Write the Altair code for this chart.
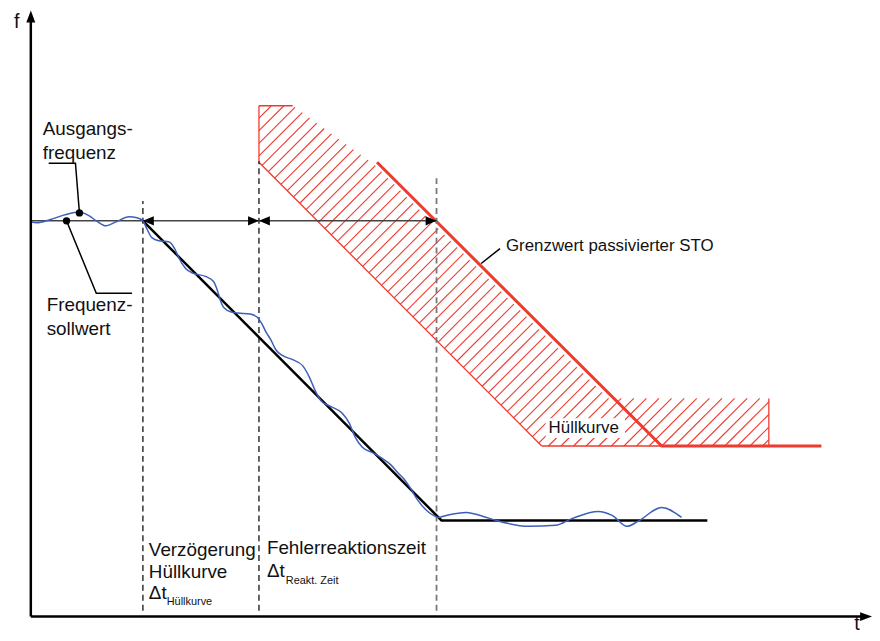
import altair as alt
import pandas as pd

# ---------------- data (t = time units, f = frequency units) ----------------
# output frequency (blue, wavy)
wave_t = [0, 6, 19, 34, 49, 59, 66, 76, 86, 99, 107, 113,
          117, 122, 129, 139, 145, 149, 156, 164, 176, 184, 188, 191, 195, 202, 209,
          221, 228, 233, 237, 242, 247, 254, 264, 274, 281, 287, 293, 302, 314, 321,
          327, 334, 345, 355, 363, 370, 376, 383, 389, 399, 406, 411, 419, 439, 456,
          469, 502, 529, 546, 572, 586, 601, 612, 636, 656]
wave_f = [398, 397, 400, 405, 408, 404, 399, 394, 398, 403, 402, 399,
          391, 382, 379, 378, 371, 362, 351, 346, 343, 338, 329, 319, 311, 307, 306,
          305, 302, 295, 287, 279, 269, 263, 259, 253, 241, 227, 217, 212, 205, 195,
          181, 171, 165, 159, 153, 145, 139, 129, 119, 107, 102, 100, 102, 105, 101,
          97, 91, 92, 99, 106, 102, 91, 96, 110, 100]

# frequency setpoint / envelope ramp (black)
ramp_t = [113, 414, 682]
ramp_f = [399, 97, 97]

# limit value passivated STO (thick red)
sto_t = [349, 636, 797]
sto_f = [458, 172, 172]

# envelope outline (thin red): segments t1,f1,t2,f2
env_t1 = [230, 230, 230, 515, 744]
env_f1 = [458, 515, 458, 172, 172]
env_t2 = [230, 264, 515, 636, 744]
env_f2 = [515, 515, 172, 172, 220]

# hatched envelope region (polygon)
hatch_t = [230, 264, 347, 582, 744, 744, 515, 230]
hatch_f = [515, 515, 455, 220, 220, 172, 172, 458]
HATCH_STEP = 12.7

# time marks
t_start = 113      # start of ramp
t_env = 230        # envelope start
t_react = 409      # reaction time end
dash_top = [419, 459, 444]
set_f = 399

# axes
axis_tmax, axis_fmax = 848, 611

# leader lines
lead_a_t = [49, 45, 18]
lead_a_f = [407, 457, 457]
lead_b_t = [36, 66, 102]
lead_b_f = [399, 326, 326]
lead_c_t = [454, 473]
lead_c_f = [356, 371]
dots_t = [49, 36]
dots_f = [407, 399]

labels = ["Ausgangs-", "frequenz", "Frequenz-", "sollwert",
          "Grenzwert passivierter STO", "Hüllkurve",
          "Verzögerung", "Hüllkurve", "Δt", "Hüllkurve",
          "Fehlerreaktionszeit", "Δt", "Reakt. Zeit", "f", "t"]
label_t = [12, 12, 16, 16, 479, 522, 119, 119, 119, 137, 238, 238, 257, -17, 830]
label_f = [492, 467, 314, 290, 374, 190, 67, 45, 24, 15, 69, 46, 36, 599, -7]
label_size = [19, 19, 19, 19, 17, 17, 19, 19, 19, 11, 19, 19, 11, 20, 20]

# ---------------- build ----------------
W, H = 864, 625
T_DOM = [-23, 841]
F_DOM = [-14, 611]
RED = "#ee3a2f"
BLUE = "#3d5fb8"

xs = alt.Scale(domain=T_DOM, nice=False, zero=False)
ys = alt.Scale(domain=F_DOM, nice=False, zero=False)


def X(f="t"):
    return alt.X(f, type="quantitative", scale=xs, axis=None)


def Y(f="f"):
    return alt.Y(f, type="quantitative", scale=ys, axis=None)


# hatch segments
poly = list(zip(hatch_t, hatch_f))
diffs = [f - t for t, f in poly]
segs = []
c = min(diffs) + HATCH_STEP / 2
while c < max(diffs):
    ts = []
    for i in range(len(poly)):
        t1, f1 = poly[i]
        t2, f2 = poly[(i + 1) % len(poly)]
        g1, g2 = f1 - t1 - c, f2 - t2 - c
        if (g1 > 0) != (g2 > 0):
            s = g1 / (g1 - g2)
            ts.append(t1 + s * (t2 - t1))
    ts.sort()
    for a, b in zip(ts[0::2], ts[1::2]):
        segs.append({"t": a, "f": a + c, "t2": b, "f2": b + c})
    c += HATCH_STEP

hatch = alt.Chart(pd.DataFrame(segs)).mark_rule(color=RED, strokeWidth=1.1).encode(
    x=X(), y=Y(), x2="t2", y2="f2")

label_box = alt.Chart(pd.DataFrame({"t": [519], "t2": [599], "f": [180], "f2": [200]})).mark_rect(
    color="white").encode(x=X(), x2="t2", y=Y(), y2="f2")

env = alt.Chart(pd.DataFrame({"t": env_t1, "f": env_f1, "t2": env_t2, "f2": env_f2})).mark_rule(
    color=RED, strokeWidth=1.3).encode(x=X(), y=Y(), x2="t2", y2="f2")

sto = alt.Chart(pd.DataFrame({"t": sto_t, "f": sto_f, "o": range(3)})).mark_line(
    color=RED, strokeWidth=3).encode(x=X(), y=Y(), order="o")

dash_df = pd.DataFrame({"t": [t_start, t_env, t_react], "f": [6, 6, 6], "f2": dash_top,
                        "c": ["#111", "#111", "#777"], "w": [1.3, 1.3, 1.8]})
dashes = alt.Chart(dash_df).mark_rule(strokeDash=[6, 4]).encode(
    x=X(), y=Y(), y2="f2", color=alt.Color("c:N", scale=None), strokeWidth=alt.StrokeWidth("w:Q", scale=None))

setline = alt.Chart(pd.DataFrame({"t": [0], "t2": [t_react], "f": [set_f]})).mark_rule(
    color="#444", strokeWidth=1.5).encode(x=X(), x2="t2", y=Y())

LEFT_HEAD = "M0,0 L2,-0.85 L2,0.85 Z"
RIGHT_HEAD = "M0,0 L-2,-0.85 L-2,0.85 Z"
heads_df = pd.DataFrame({"t": [t_start, t_env, t_env, t_react], "f": [set_f] * 4,
                         "s": [LEFT_HEAD, RIGHT_HEAD, LEFT_HEAD, RIGHT_HEAD]})
heads = alt.Chart(heads_df).mark_point(filled=True, color="black", opacity=1, size=121, strokeWidth=0).encode(
    x=X(), y=Y(), shape=alt.Shape("s:N", scale=None))

ramp = alt.Chart(pd.DataFrame({"t": ramp_t, "f": ramp_f, "o": range(3)})).mark_line(
    color="black", strokeWidth=2.5).encode(x=X(), y=Y(), order="o")

wave = alt.Chart(pd.DataFrame({"t": wave_t, "f": wave_f})).mark_line(
    color=BLUE, strokeWidth=1.5, interpolate="monotone").encode(x=X(), y=Y())

lead_df = pd.DataFrame({
    "t": lead_a_t + lead_b_t + lead_c_t,
    "f": lead_a_f + lead_b_f + lead_c_f,
    "g": ["a"] * 3 + ["b"] * 3 + ["c"] * 2,
    "o": list(range(3)) + list(range(3)) + list(range(2)),
})
leads = alt.Chart(lead_df).mark_line(color="black", strokeWidth=1.5).encode(
    x=X(), y=Y(), detail="g:N", order="o")

dots = alt.Chart(pd.DataFrame({"t": dots_t, "f": dots_f})).mark_circle(
    color="black", opacity=1, size=55).encode(x=X(), y=Y())

axes_df = pd.DataFrame({"t": [0, 0], "f": [0, 0], "t2": [0, axis_tmax - 8], "f2": [axis_fmax - 8, 0]})
axes = alt.Chart(axes_df).mark_rule(color="black", strokeWidth=2.5).encode(
    x=X(), y=Y(), x2="t2", y2="f2")
UP_HEAD = "M0,0 L-0.75,2 L0.75,2 Z"
AX_RIGHT = "M0,0 L-2,-0.75 L-2,0.75 Z"
axheads = alt.Chart(pd.DataFrame({"t": [0, axis_tmax], "f": [axis_fmax, 0], "s": [UP_HEAD, AX_RIGHT]})).mark_point(
    filled=True, color="black", opacity=1, size=144, strokeWidth=0).encode(
    x=X(), y=Y(), shape=alt.Shape("s:N", scale=None))

text = alt.Chart(pd.DataFrame({"txt": labels, "t": label_t, "f": label_f, "s": label_size})).mark_text(
    align="left", baseline="middle", font="Liberation Sans", color="#111").encode(
    x=X(), y=Y(), text="txt:N", size=alt.Size("s:Q", scale=None))

chart = alt.layer(hatch, label_box, env, sto, dashes, setline, ramp, wave, heads, leads, dots,
                  axes, axheads, text).properties(
    width=W, height=H, padding=0, background="white").configure_view(stroke=None)

chart.save("out.html", embed_options={"renderer": "svg", "actions": False})
